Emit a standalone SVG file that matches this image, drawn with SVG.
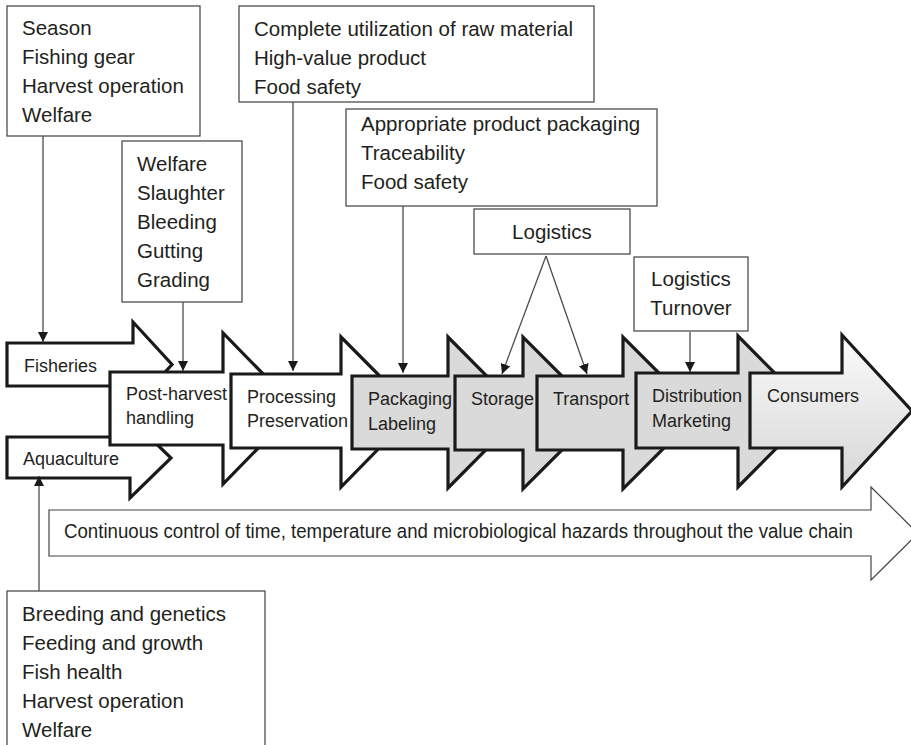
<svg xmlns="http://www.w3.org/2000/svg" width="911" height="745" viewBox="0 0 911 745">
<defs>
<style>
.box{fill:#fff;stroke:#4d4d4d;stroke-width:1.3}
.t{font-family:"Liberation Sans",Arial,sans-serif;font-size:20.5px;fill:#231f20}
.a{font-family:"Liberation Sans",Arial,sans-serif;font-size:18px;fill:#231f20}
.blk{stroke:#1a1a1a;stroke-width:3.2;stroke-linejoin:miter;stroke-miterlimit:10}
.wh{fill:#fff}
.gr{fill:#dadada}
.con{fill:none;stroke:#4d4d4d;stroke-width:1.3}
</style>
<marker id="ah" viewBox="0 0 10 10" refX="10" refY="5" markerWidth="10" markerHeight="10" markerUnits="userSpaceOnUse" orient="auto">
<path d="M0,0 L10,5 L0,10 Z" fill="#1a1a1a"/>
</marker>
<linearGradient id="cg" x1="0" y1="0" x2="0" y2="1">
<stop offset="0" stop-color="#fbfbfb"/>
<stop offset="1" stop-color="#d6d6d6"/>
</linearGradient>
</defs>

<g id="control-arrow">
<path d="M49,510 H871 V487 L918,533.5 L871,580 V556 H49 Z" fill="#fff" stroke="#444" stroke-width="1.2"/>
<text class="t" x="64" y="538" font-size="19.5" textLength="789" lengthAdjust="spacingAndGlyphs">Continuous control of time, temperature and microbiological hazards throughout the value chain</text>
</g>

<g id="fisheries">
<path class="blk wh" d="M7,343 H133 V322 L172,364.5 L133,407 V386 H7 Z"/>
<text class="a" x="24" y="372">Fisheries</text>
</g>
<g id="aquaculture">
<path class="blk wh" d="M7,437 H130 V418 L171,458 L130,498 V478 H7 Z"/>
<text class="a" x="23" y="465">Aquaculture</text>
</g>
<g id="post-harvest">
<path class="blk wh" d="M110,372 H223 V333 L297,408.5 L223,484 V445 H110 Z"/>
<text class="a" x="126" y="400">Post-harvest</text>
<text class="a" x="126" y="424">handling</text>
</g>
<g id="processing">
<path class="blk wh" d="M231,374 H341 V337 L415,411.5 L341,487 V448 H231 Z"/>
<text class="a" x="247" y="403">Processing</text>
<text class="a" x="247" y="427">Preservation</text>
</g>
<g id="packaging">
<path class="blk gr" d="M352,376 H448 V337 L523,412.5 L448,488 V449 H352 Z"/>
<text class="a" x="368" y="405">Packaging</text>
<text class="a" x="368" y="430">Labeling</text>
</g>
<g id="storage">
<path class="blk gr" d="M455,376 H523 V337 L599,413 L523,489 V450 H455 Z"/>
<text class="a" x="471" y="405">Storage</text>
</g>
<g id="transport">
<path class="blk gr" d="M537,376 H623 V337 L699,413 L623,489 V450 H537 Z"/>
<text class="a" x="553" y="405">Transport</text>
</g>
<g id="distribution">
<path class="blk gr" d="M636,373 H738 V336 L813,411.5 L738,487 V448 H636 Z"/>
<text class="a" x="652" y="402">Distribution</text>
<text class="a" x="652" y="427">Marketing</text>
</g>
<g id="consumers">
<path class="blk" fill="url(#cg)" d="M750,373 H842 V335 L912,411 L842,487 V448 H750 Z"/>
<text class="a" x="767" y="402">Consumers</text>
</g>

<g id="box-fisheries">
<rect class="box" x="7" y="6" width="193" height="130"/>
<text class="t" x="22" y="35">Season</text>
<text class="t" x="22" y="64">Fishing gear</text>
<text class="t" x="22" y="93">Harvest operation</text>
<text class="t" x="22" y="122">Welfare</text>
</g>
<g id="box-postharvest">
<rect class="box" x="122" y="141" width="120" height="161"/>
<text class="t" x="137" y="171">Welfare</text>
<text class="t" x="137" y="200">Slaughter</text>
<text class="t" x="137" y="229">Bleeding</text>
<text class="t" x="137" y="258">Gutting</text>
<text class="t" x="137" y="287">Grading</text>
</g>
<g id="box-processing">
<rect class="box" x="239" y="6" width="355" height="96"/>
<text class="t" x="254" y="36">Complete utilization of raw material</text>
<text class="t" x="254" y="65">High-value product</text>
<text class="t" x="254" y="94">Food safety</text>
</g>
<g id="box-packaging">
<rect class="box" x="346" y="109" width="311" height="97"/>
<text class="t" x="361" y="131">Appropriate product packaging</text>
<text class="t" x="361" y="160">Traceability</text>
<text class="t" x="361" y="189">Food safety</text>
</g>
<g id="box-logistics">
<rect class="box" x="474" y="209" width="156" height="45"/>
<text class="t" x="552" y="239" text-anchor="middle">Logistics</text>
</g>
<g id="box-distribution">
<rect class="box" x="634" y="257" width="114" height="74"/>
<text class="t" x="691" y="286" text-anchor="middle">Logistics</text>
<text class="t" x="691" y="315" text-anchor="middle">Turnover</text>
</g>
<g id="box-aquaculture">
<rect class="box" x="7" y="591" width="258" height="170"/>
<text class="t" x="22" y="621">Breeding and genetics</text>
<text class="t" x="22" y="650">Feeding and growth</text>
<text class="t" x="22" y="679">Fish health</text>
<text class="t" x="22" y="708">Harvest operation</text>
<text class="t" x="22" y="737">Welfare</text>
</g>

<g id="connectors">
<line class="con" x1="43" y1="136" x2="43" y2="342" marker-end="url(#ah)"/>
<line class="con" x1="183" y1="302" x2="183" y2="371" marker-end="url(#ah)"/>
<line class="con" x1="293" y1="102" x2="293" y2="371" marker-end="url(#ah)"/>
<line class="con" x1="403" y1="206" x2="403" y2="373" marker-end="url(#ah)"/>
<line class="con" x1="546" y1="256" x2="502" y2="374" marker-end="url(#ah)"/>
<line class="con" x1="546" y1="256" x2="587" y2="374" marker-end="url(#ah)"/>
<line class="con" x1="690" y1="332" x2="690" y2="372" marker-end="url(#ah)"/>
<line class="con" x1="39" y1="591" x2="39" y2="476" marker-end="url(#ah)"/>
</g>
</svg>
